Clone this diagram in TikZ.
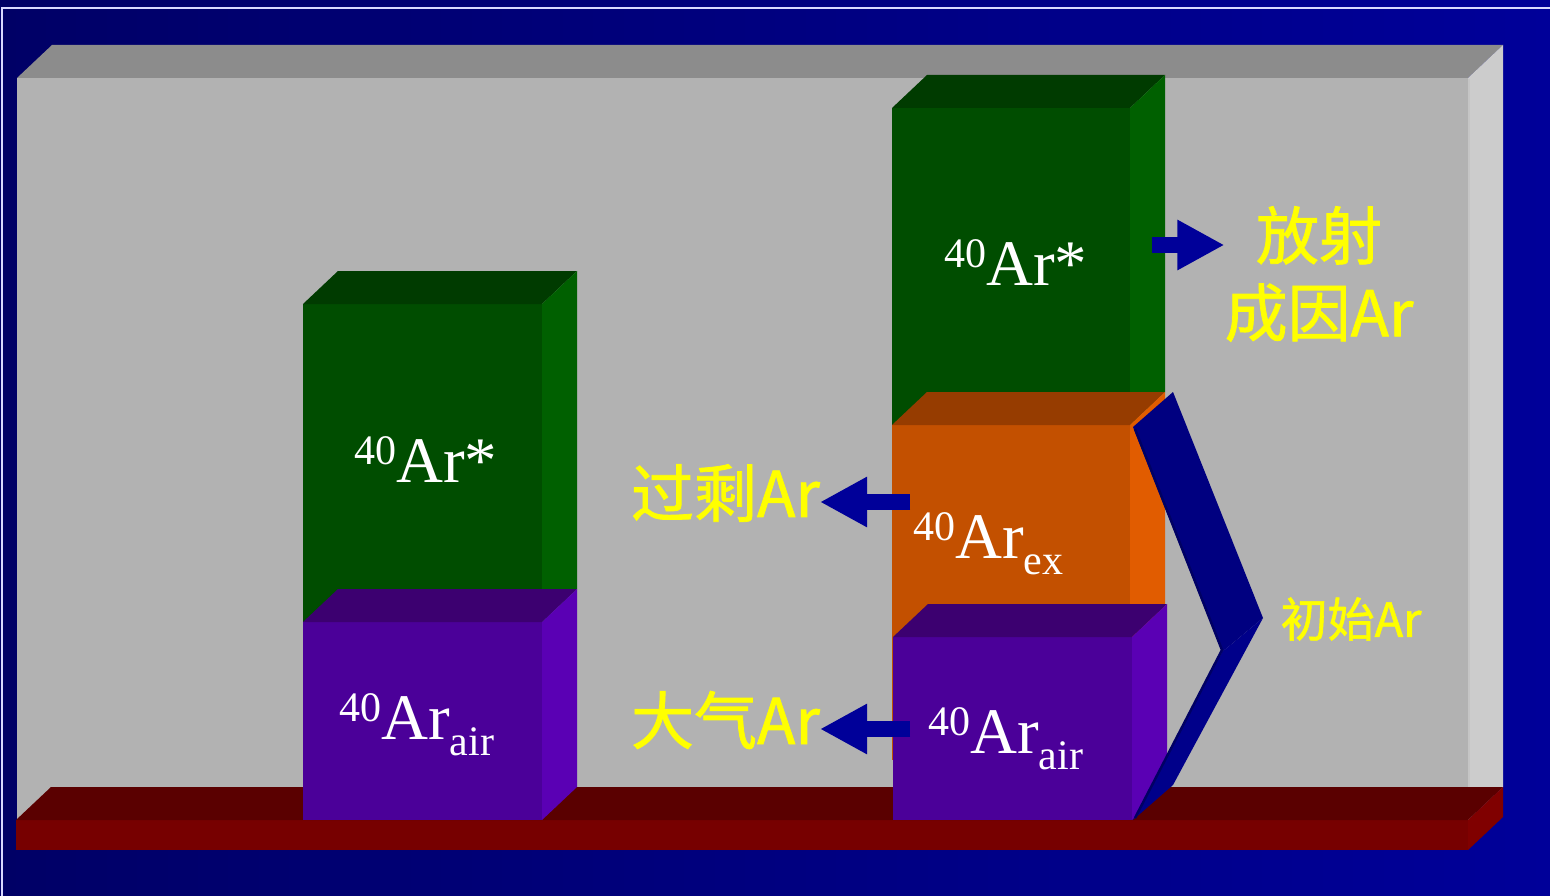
\documentclass[tikz,border=0pt]{standalone}
\usepackage{fontspec}
\setmainfont{Liberation Serif}
\newfontfamily\cjk[FakeBold=1.2]{Noto Sans CJK SC}
\usetikzlibrary{arrows.meta}

\definecolor{bgleft}{RGB}{0,0,102}
\definecolor{bgright}{RGB}{0,0,153}
\definecolor{panelfront}{RGB}{178,178,178}
\definecolor{paneltop}{RGB}{140,140,140}
\definecolor{panelside}{RGB}{204,204,204}
\definecolor{floorfront}{RGB}{119,0,0}
\definecolor{floortop}{RGB}{90,0,0}
\definecolor{floorside}{RGB}{128,0,0}
\definecolor{greenfront}{RGB}{0,77,0}
\definecolor{greentop}{RGB}{0,59,0}
\definecolor{greenside}{RGB}{0,96,0}
\definecolor{orangefront}{RGB}{195,80,0}
\definecolor{orangetop}{RGB}{150,60,0}
\definecolor{orangeside}{RGB}{225,92,0}
\definecolor{purplefront}{RGB}{75,0,153}
\definecolor{purpletop}{RGB}{60,0,112}
\definecolor{purpleside}{RGB}{90,0,180}
\definecolor{arrowblue}{RGB}{0,0,153}
\definecolor{bracenavy}{RGB}{0,0,128}
\definecolor{bracelow}{RGB}{0,0,138}
\definecolor{bracedark}{RGB}{0,0,100}
\definecolor{lblyellow}{RGB}{255,255,0}

\newcommand{\cuboid}[5]{%
  \fill[#5front] (#1,#2) rectangle ++(#3,#4);
  \fill[#5top] (#1,#2) -- ++(35,-33) -- ++(#3,0) -- ++(-35,33) -- cycle;
  \fill[#5side] (#1+#3,#2) -- ++(35,-33) -- ++(0,#4) -- ++(-35,33) -- cycle;}
\newcommand{\massno}{\raisebox{18pt}{\fontsize{42}{42}\selectfont 40}}
\newcommand{\arsub}[1]{\raisebox{-16pt}{\fontsize{42}{42}\selectfont #1}}

\begin{document}
\begin{tikzpicture}[x=1pt, y=-1pt,
  arlbl/.style={text=white, font=\fontsize{65}{65}\selectfont, inner sep=0pt, anchor=base west},
  cjklbl/.style={text=lblyellow, font=\cjk\fontsize{63}{77}\selectfont, inner sep=0pt},
  blockarrow/.style={draw=arrowblue, line width=16pt, -{Triangle[length=47pt,width=47pt]}}
]
\useasboundingbox (0,0) rectangle (1550,896);
\shade[left color=bgleft, right color=bgright] (0,0) rectangle (1550,896);
\draw[white!85!blue, line width=1.5pt] (2,896) -- (2,8) -- (1550,8);

\cuboid{17}{78}{1451}{742}{panel}
\draw[panelfront!75!white, line width=2pt] (1469,79) -- (1469,820);
\cuboid{16}{820}{1452}{30}{floor}

\cuboid{303}{304}{239}{318}{green}
\cuboid{303}{622}{239}{198}{purple}
\cuboid{892}{108}{238}{317}{green}
\cuboid{892}{425}{238}{335}{orange}
\cuboid{893}{637}{239}{183}{purple}

\fill[bracenavy] (1133,427) -- (1173,392) -- (1263,618) -- (1222,652) -- cycle;
\fill[bracelow] (1222,652) -- (1263,618) -- (1173,785) -- (1133,820) -- cycle;
\draw[bracedark, line width=2.5pt] (1135,429) -- (1222,650) -- (1135,818);

\node[arlbl] (lstar) at (354,482) {\massno Ar*};
\node[arlbl] (lair) at (339,739) {\massno Ar\arsub{air}};
\node[arlbl] (rstar) at (944,285) {\massno Ar*};
\node[arlbl] (rex) at (913,558) {\massno Ar\arsub{ex}};
\node[arlbl] (rair) at (928,753) {\massno Ar\arsub{air}};

\node[cjklbl, align=center] (radlbl) at (1319,274) {放射\\成因Ar};
\node[cjklbl, anchor=east] (exlbl) at (820,493) {过剩Ar};
\node[cjklbl, anchor=east] (airlbl) at (820,720) {大气Ar};
\node[cjklbl, font=\cjk\fontsize{47}{56}\selectfont] (initlbl) at (1351,619) {初始Ar};

\coordinate (radsrc) at (1152,245);
\coordinate (exsrc) at (910,502);
\coordinate (airsrc) at (910,729);
\draw[blockarrow] (radsrc) -- (radlbl.west |- radsrc);
\draw[blockarrow] (exsrc) -- (exlbl.east |- exsrc);
\draw[blockarrow] (airsrc) -- (airlbl.east |- airsrc);

\end{tikzpicture}
\end{document}
